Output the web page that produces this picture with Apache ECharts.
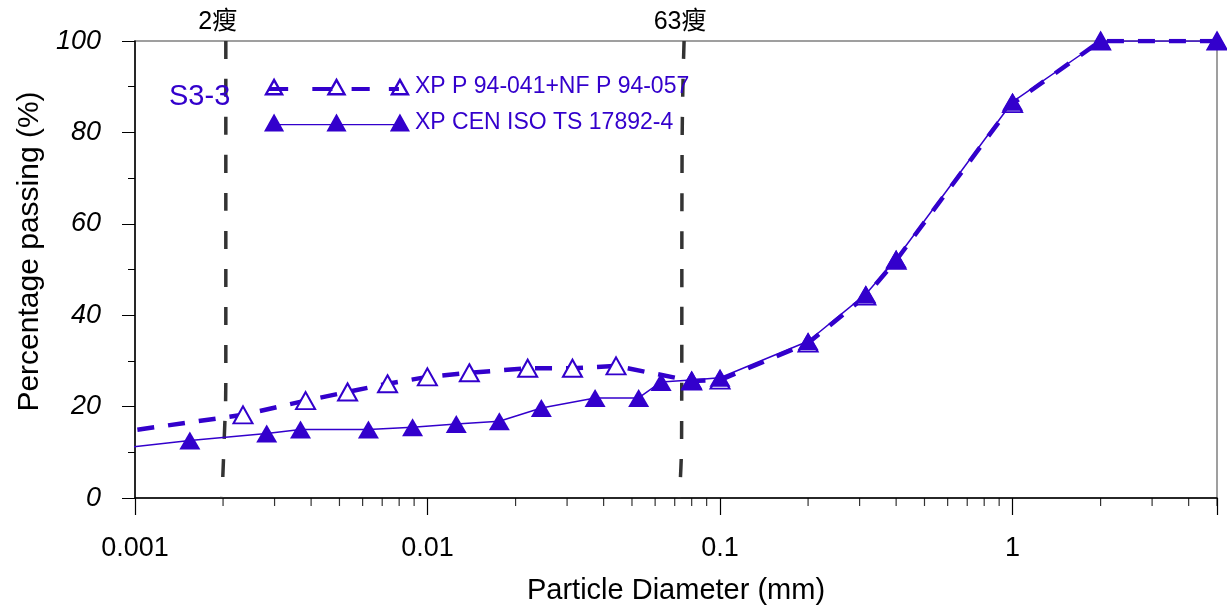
<!DOCTYPE html>
<html>
<head>
<meta charset="utf-8">
<script src="https://cdn.jsdelivr.net/npm/echarts@6/dist/echarts.min.js"></script>
<style>html,body{margin:0;padding:0;background:#fff;}#c{width:1227px;height:610px;}</style>
</head>
<body>
<div id="c"></div>
<script>
// Series A: XP P 94-041 + NF P 94-057 (open triangles, dashed)
const sizesA = [0.0008, 0.00234, 0.00383, 0.00533, 0.0073, 0.00999, 0.0139, 0.022, 0.0313, 0.0441, 0.08, 0.1, 0.2, 0.315, 0.4, 1, 2, 5];
const passA  = [14.0, 18.2, 21.3, 23.2, 25.0, 26.5, 27.4, 28.4, 28.4, 28.9, 25.6, 25.8, 33.9, 44.2, 52.0, 86.3, 100, 100];
// Series B: XP CEN ISO TS 17892-4 (filled triangles, solid)
const sizesB = [0.0008, 0.00154, 0.00282, 0.00368, 0.00628, 0.00889, 0.01254, 0.0176, 0.0245, 0.0374, 0.0527, 0.0629, 0.08, 0.1, 0.2, 0.315, 0.4, 1, 2, 5];
const passB  = [10.5, 12.6, 14.1, 15.0, 15.0, 15.5, 16.2, 16.8, 19.7, 21.9, 21.9, 25.4, 25.8, 26.3, 34.3, 44.6, 52.3, 86.7, 100, 100];
// Reference boundary lines (2 µm and "63 µm" as drawn)
const ref2X  = [0.002044, 0.002044, 0.002012, 0.001981];
const ref2Y  = [100, 26.9, 10.5, 0];
const ref63X = [0.07535, 0.07418, 0.07389, 0.07246];
const ref63Y = [100, 76.1, 12.7, 0];
const refLabels = ['2瘦', '63瘦'];
// Minor x ticks
const minorTicksX = [0.002,0.003,0.004,0.005,0.006,0.007,0.008,0.009,
                     0.02,0.03,0.04,0.05,0.06,0.07,0.08,0.09,
                     0.2,0.3,0.4,0.5,0.6,0.7,0.8,0.9,
                     2,3,4,5];
const legendNames = ['XP P 94-041+NF P 94-057', 'XP CEN ISO TS 17892-4'];
const sampleName = 'S3-3';

const FONT = "'Liberation Sans', Arial, sans-serif";
const BLUE = '#3300cc';

// legend sample icons: three triangles joined by a line (dashed / solid)
const ringTri = x => `M${x} 18 L${x + 10} 0 L${x + 20} 18 Z M${x + 4} 15.6 L${x + 16} 15.6 L${x + 10} 5 Z`;
const fullTri = x => `M${x} 18 L${x + 10} 0 L${x + 20} 18 Z`;
const bar = (x0, x1, y0, y1) => `M${x0} ${y0} L${x1} ${y0} L${x1} ${y1} L${x0} ${y1} Z`;
const iconA = 'path://' + [ringTri(0), ringTri(62), ringTri(125),
  bar(5, 24, 9.5, 13.5), bar(48, 68, 9.5, 13.5), bar(87, 105, 9.5, 13.5), bar(124, 134, 9.5, 13.5)].join(' ');
const iconB = 'path://' + [fullTri(0), fullTri(62), fullTri(125), bar(5, 140, 10.6, 11.8)].join(' ');

const zip = (xs, ys) => xs.map((x, i) => [x, ys[i]]);

const refSeries = (xs, ys, label, off) => ({
  type: 'line', smooth: true, symbol: 'none', showSymbol: true, silent: true,
  lineStyle: { color: '#333333', width: 3.5, type: [18, 20] },
  data: zip(xs, ys).map((p, i) => i === 0 ? {
    value: p, symbol: 'circle', symbolSize: 1,
    itemStyle: { color: 'rgba(0,0,0,0)' },
    label: { show: true, position: 'top', distance: 6, offset: off, formatter: label,
             color: '#000', fontSize: 25, fontFamily: "'Liberation Sans','Noto Sans CJK SC',sans-serif" }
  } : p),
  z: 1
});

const chart = echarts.init(document.getElementById('c'));
chart.setOption({
  animation: false,
  backgroundColor: '#fff',
  grid: { left: 135, right: 10, top: 41, bottom: 112, show: true, borderColor: '#808080', borderWidth: 1.5, backgroundColor: 'transparent' },
  title: { text: sampleName, left: 164, top: 77, textStyle: { color: BLUE, fontSize: 29, fontWeight: 'normal', fontFamily: FONT } },
  legend: {
    orient: 'vertical', left: 259, top: 70, itemWidth: 146, itemHeight: 18, itemGap: 13,
    symbolKeepAspect: false,
    data: [
      { name: legendNames[0], icon: iconA, itemStyle: { color: BLUE, borderWidth: 0 } },
      { name: legendNames[1], icon: iconB, itemStyle: { color: BLUE, borderWidth: 0 } }
    ],
    textStyle: { color: BLUE, fontSize: 23, fontFamily: FONT }
  },
  xAxis: {
    type: 'log', min: 0.001, max: 5, logBase: 10,
    name: 'Particle Diameter (mm)', nameLocation: 'middle', nameGap: 78,
    nameTextStyle: { color: '#000', fontSize: 29, fontFamily: FONT },
    axisLine: { show: true, lineStyle: { color: '#000', width: 1.5 } },
    axisTick: { show: true, inside: false, length: 17, lineStyle: { color: '#000', width: 1.2 } },
    axisLabel: { color: '#000', fontSize: 27, fontFamily: FONT, margin: 37,
                 formatter: v => (v > 1.5 ? '' : String(+v.toPrecision(3))) },
    splitLine: { show: false }, minorTick: { show: false }
  },
  yAxis: {
    type: 'value', min: 0, max: 100, interval: 20,
    name: 'Percentage passing (%)', nameLocation: 'middle', nameGap: 88,
    nameTextStyle: { color: '#000', fontSize: 30, fontFamily: FONT, padding: [0, 0, 0, 36] },
    axisLine: { show: true, lineStyle: { color: '#000', width: 1.5 } },
    axisTick: { show: true, inside: false, length: 13, lineStyle: { color: '#000', width: 1 } },
    minorTick: { show: true, splitNumber: 2, length: 7, lineStyle: { color: '#000', width: 1 } },
    axisLabel: { color: '#000', fontSize: 27, fontStyle: 'italic', fontFamily: FONT, margin: 34 },
    splitLine: { show: false }
  },
  series: [
    refSeries(ref2X, ref2Y, refLabels[0], [-8, 0]),
    refSeries(ref63X, ref63Y, refLabels[1], [-4, 0]),
    {
      name: legendNames[0], type: 'line', data: zip(sizesA, passA), clip: true,
      symbol: 'triangle', symbolSize: [19, 17],
      itemStyle: { color: '#ffffff', borderColor: BLUE, borderWidth: 2 },
      lineStyle: { color: BLUE, width: 4.5, type: [17, 14] },
      z: 3
    },
    {
      name: legendNames[1], type: 'line', data: zip(sizesB, passB), clip: true,
      symbol: 'triangle', symbolSize: [21, 18],
      itemStyle: { color: BLUE, borderColor: BLUE, borderWidth: 0 },
      lineStyle: { color: BLUE, width: 1.5 },
      z: 4
    },
    {
      type: 'scatter', silent: true, clip: false,
      data: minorTicksX.map(v => [v, 0]),
      symbol: 'rect', symbolSize: [1.2, 8], symbolOffset: [0, 4],
      itemStyle: { color: '#000' }, z: 5
    }
  ]
});
</script>
</body>
</html>
